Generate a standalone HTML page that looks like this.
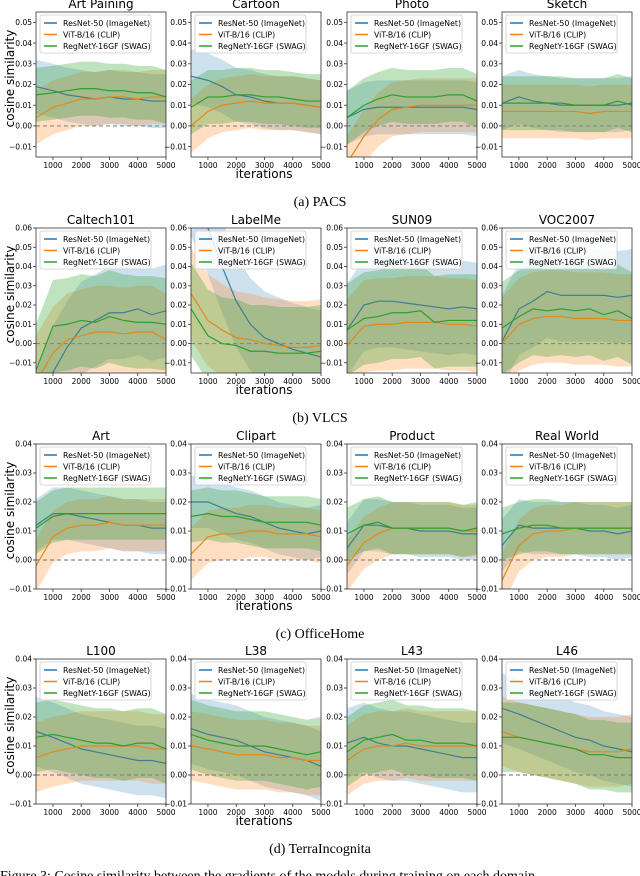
<!DOCTYPE html>
<html><head><meta charset="utf-8"><style>
body{margin:0;background:#fff;width:640px;height:876px;overflow:hidden}
svg{display:block}
text{font-family:"DejaVu Sans","Liberation Sans",sans-serif}
.cap{font-family:"Liberation Serif",serif;font-size:14px}
</style></head><body>
<svg id="fig" width="640" height="876" viewBox="0 0 640 876" xmlns="http://www.w3.org/2000/svg"></svg>
<script>
const xs=[400,1000,1500,2000,2500,3000,3500,4000,4500,5000];
const xTicks=[1000,2000,3000,4000,5000];
const seriesNames=["ResNet-50 (ImageNet)","ViT-B/16 (CLIP)","RegNetY-16GF (SWAG)"];
const rowTitles=[["Art Paining","Cartoon","Photo","Sketch"],["Caltech101","LabelMe","SUN09","VOC2007"],["Art","Clipart","Product","Real World"],["L100","L38","L43","L46"]];
const rowCaptions=["(a) PACS","(b) VLCS","(c) OfficeHome","(d) TerraIncognita"];
const yDomains=[[-0.015,0.055],[-0.0153,0.06],[-0.01,0.04],[-0.01,0.04]];
const yTicks=[[-0.01,0,0.01,0.02,0.03,0.04,0.05],[-0.01,0,0.01,0.02,0.03,0.04,0.05,0.06],[-0.01,0,0.01,0.02,0.03,0.04],[-0.01,0,0.01,0.02,0.03,0.04]];
const bandHalf=[13,24,9,12];
// values in units of 0.001: [blue, orange, green]
const pacsArt=[[19,17,15,14,13,14,13,13,12,12],[4,9,11,13,13,14,14,13,14,14],[15,16,17,18,18,17,17,16,16,14]];
const pacsCartoon=[[24,22,19,15,14,12,11,11,10,9],[0,7,10,11,12,11,11,11,10,9],[9,14,14,15,15,14,14,13,12,12]];
const pacsPhoto=[[4,8,9,9,9,9,9,9,9,8],[-18,-5,3,8,9,10,10,10,10,10],[4,10,13,15,14,14,14,15,15,12]];
const pacsSketch=[[11,14,12,11,10,10,10,10,10,11],[7,7,7,7,7,7,6,7,7,7],[11,11,11,11,11,10,10,10,12,10]];
const vlcsCaltech=[[-40,-15,-2,8,12,16,16,18,15,17],[-20,-5,2,4,6,6,5,6,6,2],[-14,9,10,12,11,14,12,11,11,10]];
const vlcsLabelMe=[[80,60,40,22,10,3,0,-3,-5,-7],[26,12,7,3,2,0,-1,-2,-2,-1],[18,4,0,-1,-4,-4,-5,-5,-5,-4]];
const vlcsSun=[[7,20,22,22,21,20,19,18,19,18],[-1,9,10,10,11,11,11,10,10,9],[7,13,14,16,16,17,11,12,12,12]];
const vlcsVoc=[[1,18,22,27,25,25,25,25,24,25],[0,10,13,14,14,13,13,13,12,12],[8,14,18,17,18,17,18,15,17,13]];
const ohArt=[[12,16,16,15,14,13,12,12,11,11],[-2,8,11,12,12,13,12,12,12,12],[11,15,16,16,16,16,16,16,16,16]];
const ohClipart=[[20,20,18,16,15,13,11,10,9,10],[2,8,9,9,10,10,9,9,9,8],[15,16,15,15,14,13,13,13,13,12]];
const ohProduct=[[4,12,12,11,11,10,10,10,9,9],[-2,6,9,11,11,11,11,11,10,10],[9,12,13,11,11,11,11,11,10,11]];
const ohReal=[[5,12,11,11,11,11,10,10,9,10],[-7,5,9,10,10,11,11,11,11,11],[9,11,12,12,11,11,11,11,11,11]];
const tiL100=[[15,13,11,9,8,7,6,5,5,4],[6,8,9,10,10,10,10,10,9,9],[13,14,13,12,11,11,10,11,11,9]];
const tiL38=[[16,14,13,12,10,8,7,6,5,3],[10,9,8,7,7,7,6,6,5,5],[14,12,11,10,10,10,9,8,7,8]];
const tiL43=[[11,13,11,10,10,9,8,7,6,6],[5,9,10,10,11,10,10,10,10,10],[8,12,13,14,12,12,11,11,11,10]];
const tiL46=[[23,21,19,17,15,13,12,10,9,8],[15,13,12,11,10,9,8,8,8,9],[13,13,12,11,10,9,7,7,6,6]];
const panelData=[[pacsArt,pacsCartoon,pacsPhoto,pacsSketch],[vlcsCaltech,vlcsLabelMe,vlcsSun,vlcsVoc],[ohArt,ohClipart,ohProduct,ohReal],[tiL100,tiL38,tiL43,tiL46]];

const NS="http://www.w3.org/2000/svg";
const svg=document.getElementById('fig');
function mk(tag,attrs,parent){const e=document.createElementNS(NS,tag);for(const k in attrs)e.setAttribute(k,attrs[k]);(parent||svg).appendChild(e);return e;}
const colsX=[36,191,347,502], W=130, H=145, rowsY=[12,228,444,659];
const lineCols=["#3f7f8f","#e08a1e","#2ca02c"], bandCols=["#1f77b4","#ff7f0e","#2ca02c"], bandOp=[0.22,0.26,0.3];
const X0=400,X1=5000;
let cid=0;
for(let r=0;r<4;r++){
  const top=rowsY[r],[y0,y1]=yDomains[r];
  for(let c=0;c<4;c++){
    const left=colsX[c];
    const sx=v=>left+(v-X0)/(X1-X0)*W;
    const sy=v=>top+H-(v-y0)/(y1-y0)*H;
    const g=mk('g',{});
    
    
    const cp=mk('clipPath',{id:'cp'+cid},g);mk('rect',{x:left,y:top,width:W,height:H},cp);
    const pg=mk('g',{'clip-path':'url(#cp'+cid+')'},g);cid++;
    const data=panelData[r][c];
    for(let s=0;s<3;s++){
      const hw=bandHalf[r];
      let up=xs.map((x,i)=>sx(x)+','+sy((data[s][i]+hw)/1000));
      let dn=xs.map((x,i)=>sx(x)+','+sy((data[s][i]-hw)/1000)).reverse();
      const b=mk('polygon',{points:up.concat(dn).join(' '),fill:bandCols[s],'fill-opacity':bandOp[s]},pg);
      
      
    }
    const z=mk('line',{x1:left,x2:left+W,y1:sy(0),y2:sy(0),stroke:'#888','stroke-width':1.2,'stroke-dasharray':'4,3'},pg);
    
    
    for(let s=0;s<3;s++){
      const l=mk('polyline',{points:xs.map((x,i)=>sx(x)+','+sy(data[s][i]/1000)).join(' '),fill:'none',stroke:lineCols[s],'stroke-width':1.2},pg);
      
      
    }
    mk('rect',{x:left,y:top,width:W,height:H,fill:'none',stroke:'#333','stroke-width':0.8},g);
    const t=mk('text',{x:left+W/2,y:top-4,'text-anchor':'middle','font-size':12},g);t.textContent=rowTitles[r][c];
    
    
    for(const tv of xTicks){
      mk('line',{x1:sx(tv),x2:sx(tv),y1:top+H,y2:top+H+3,stroke:'#333','stroke-width':0.8},g);
      const tl=mk('text',{x:sx(tv),y:top+H+11,'text-anchor':'middle','font-size':7.5},g);tl.textContent=tv;
      
      
    }
    for(const tv of yTicks[r]){
      mk('line',{x1:left-3,x2:left,y1:sy(tv),y2:sy(tv),stroke:'#333','stroke-width':0.8},g);
      const tl=mk('text',{x:left-4,y:sy(tv)+2.7,'text-anchor':'end','font-size':7.5},g);
      tl.textContent=tv<0?'\u2212'+Math.abs(tv).toFixed(2):tv.toFixed(2);
      
      
    }
    const lg=mk('g',{},g);
    
    
    mk('rect',{x:left+4,y:top+3,width:111,height:38,rx:2,fill:'#fff','fill-opacity':0.85,stroke:'#ccc','stroke-width':0.8},lg);
    for(let s=0;s<3;s++){
      const yy=top+11+s*11.5;
      mk('line',{x1:left+8,x2:left+21,y1:yy,y2:yy,stroke:bandCols[s],'stroke-width':1.5},lg);
      const lt=mk('text',{x:left+27,y:yy+2.8,'font-size':7.8},lg);lt.textContent=seriesNames[s];
      
      
    }
  }
  const yl=mk('text',{x:0,y:0,'text-anchor':'middle','font-size':12,transform:`translate(14,${top+H/2-6}) rotate(-90)`});yl.textContent='cosine similarity';
  
  
  const xl=mk('text',{x:264,y:top+166,'text-anchor':'middle','font-size':12});xl.textContent='iterations';
  
  
  const cap=mk('text',{x:320,y:top+194,'text-anchor':'middle',class:'cap'});cap.textContent=rowCaptions[r];
  
  
}
const fc=mk('text',{x:0,y:880,class:'cap'});fc.textContent='Figure 3: Cosine similarity between the gradients of the models during training on each domain.';


</script>
</body></html>
